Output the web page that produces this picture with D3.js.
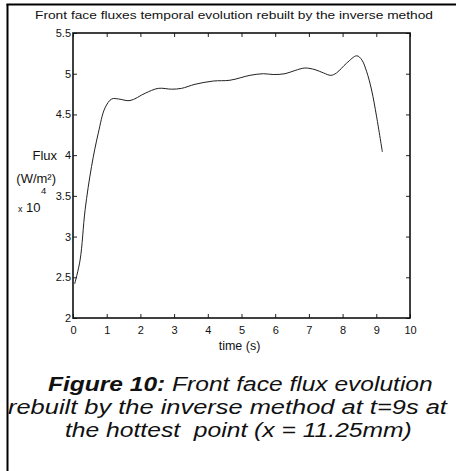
<!DOCTYPE html>
<html>
<head>
<meta charset="utf-8">
<script src="https://d3js.org/d3.v7.min.js"></script>
<style>
  body { margin: 0; background: #fff; }
  text { font-family: "Liberation Sans", Arial, sans-serif; fill: #111; }
</style>
</head>
<body>
<svg width="456" height="471"></svg>
<script>

// flux (x10^4 W/m2)
var times = [0.05, 0.21, 0.36, 0.55, 0.75, 0.95, 1.15, 1.35, 1.69, 2.14, 2.53, 2.93, 3.22, 3.62, 4.16, 4.66,
             5.25, 5.65, 5.94, 6.29, 6.59, 6.88, 7.18, 7.43, 7.65, 7.82, 8.12, 8.42, 8.57, 8.71, 8.86, 9.01, 9.18];
var flux  = [2.42, 2.71, 3.33, 3.86, 4.27, 4.58, 4.69, 4.69, 4.67, 4.76, 4.82, 4.81, 4.82, 4.87, 4.91, 4.92,
             4.98, 5.00, 4.99, 5.00, 5.04, 5.07, 5.05, 5.01, 4.98, 5.01, 5.13, 5.22, 5.17, 5.03, 4.80, 4.47, 4.04];
var xTicks = [0, 1, 2, 3, 4, 5, 6, 7, 8, 9, 10];
var yTicks = [2, 2.5, 3, 3.5, 4, 4.5, 5, 5.5];

var svg = d3.select("svg");

// frame of the figure (left and top edges only, as cropped)
svg.append("line").attr("x1", 7.5).attr("x2", 7.5).attr("y1", 4).attr("y2", 471)
    .attr("stroke", "#000").attr("stroke-width", 2);
svg.append("line").attr("x1", 6.5).attr("x2", 456).attr("y1", 4.5).attr("y2", 4.5)
    .attr("stroke", "#000").attr("stroke-width", 2);

var pLeft = 73, pRight = 410, pTop = 33, pBottom = 318;

var x = d3.scaleLinear().domain([0, 10]).range([pLeft, pRight]);
var y = d3.scaleLinear().domain([2, 5.5]).range([pBottom, pTop]);

// ticks inward on all four sides
function ticks(axis, tr) {
  var g = svg.append("g").attr("transform", tr).call(axis);
  g.select(".domain").remove();
  g.selectAll("line").attr("stroke", "#222");
  g.selectAll("text").attr("font-size", 11)
      .attr("font-family", "Liberation Sans, Arial, sans-serif").attr("fill", "#111");
  return g;
}
ticks(d3.axisBottom(x).tickValues(xTicks).tickSize(-4).tickPadding(8).tickFormat(d3.format("d")),
      "translate(0," + pBottom + ")");
ticks(d3.axisTop(x).tickValues(xTicks).tickSize(-4).tickFormat(""), "translate(0," + pTop + ")");
ticks(d3.axisLeft(y).tickValues(yTicks).tickSize(-4).tickPadding(2).tickFormat(function(d) { return d; }),
      "translate(" + pLeft + ",0)");
ticks(d3.axisRight(y).tickValues(yTicks).tickSize(-4).tickFormat(""), "translate(" + pRight + ",0)");

svg.append("rect")
    .attr("x", pLeft).attr("y", pTop)
    .attr("width", pRight - pLeft).attr("height", pBottom - pTop)
    .attr("fill", "none").attr("stroke", "#111").attr("stroke-width", 1.6);

var line = d3.line()
    .x(function(d, i) { return x(times[i]); })
    .y(function(d) { return y(d); })
    .curve(d3.curveCatmullRom);

svg.append("path")
    .datum(flux)
    .attr("fill", "none")
    .attr("stroke", "#222")
    .attr("stroke-width", 1)
    .attr("d", line);

// titles
svg.append("text").attr("x", 35).attr("y", 19)
    .attr("font-size", 11.5).attr("textLength", 398).attr("lengthAdjust", "spacingAndGlyphs")
    .text("Front face fluxes temporal evolution rebuilt by the inverse method");
svg.append("text").attr("x", (pLeft + pRight) / 2 - 2).attr("y", 350).attr("text-anchor", "middle")
    .attr("font-size", 12.5).text("time (s)");

svg.append("text").attr("x", 57).attr("y", 160).attr("text-anchor", "end")
    .attr("font-size", 13).text("Flux");
svg.append("text").attr("x", 56).attr("y", 183).attr("text-anchor", "end")
    .attr("font-size", 13).text("(W/m²)");
svg.append("text").attr("x", 41).attr("y", 194).attr("font-size", 9.5).text("4");
svg.append("text").attr("x", 18).attr("y", 212).attr("font-size", 13)
    .html('<tspan font-size="9">x</tspan> 10');

// caption (stretched horizontally like the source scan)
var caption = [
  [{ t: "Figure 10:", b: true }, { t: " Front face flux evolution", b: false }],
  [{ t: "rebuilt by the inverse method at t=9s at", b: false }],
  [{ t: "the hottest\u00a0 point (x = 11.25mm)", b: false }]
];
var capLeft = [48, 8, 65], capWidth = [385, 439, 347];
caption.forEach(function(parts, i) {
  var t = svg.append("text")
      .attr("font-size", 19.5).attr("font-style", "italic");
  parts.forEach(function(p) {
    t.append("tspan").attr("font-weight", p.b ? "bold" : "normal").text(p.t);
  });
  var k = capWidth[i] / t.node().getComputedTextLength();
  t.attr("transform", "translate(" + capLeft[i] + "," + (391 + i * 23) + ") scale(" + k + ",1)");
});

</script>
</body>
</html>
